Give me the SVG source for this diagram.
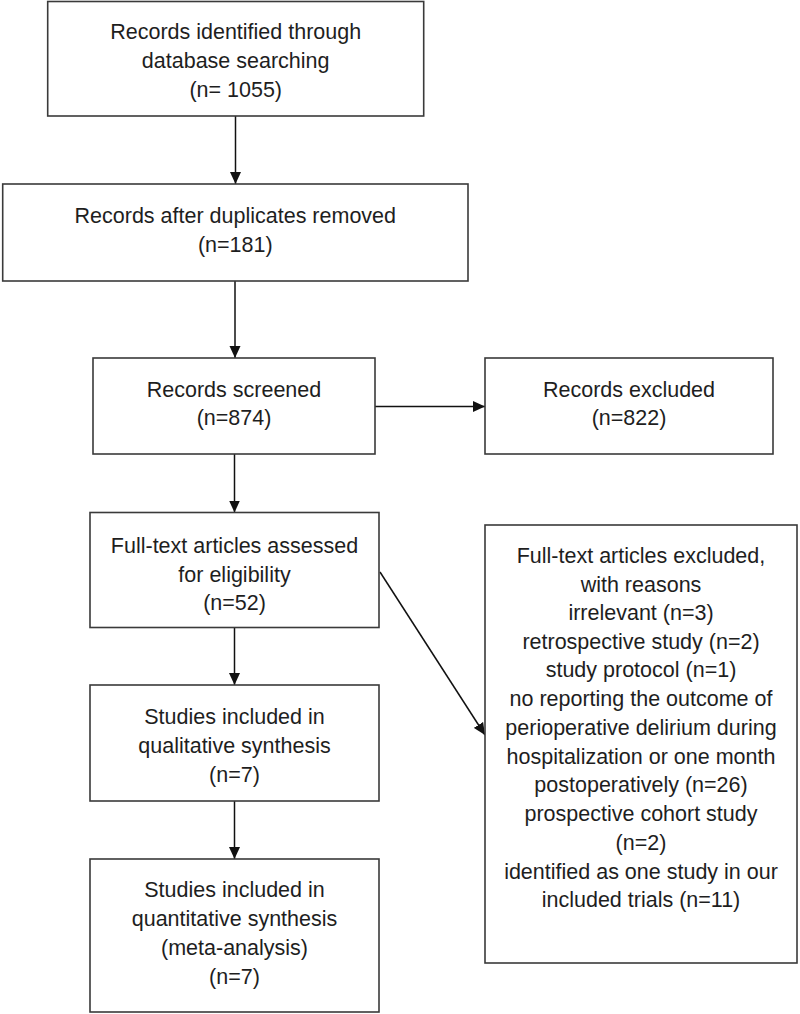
<svg xmlns="http://www.w3.org/2000/svg" width="800" height="1014" viewBox="0 0 800 1014">
<defs>
<marker id="ah" markerUnits="userSpaceOnUse" markerWidth="12" markerHeight="12" refX="12" refY="6" orient="auto">
<path d="M0,0.5 L12,6 L0,11.5 z" fill="#111"/>
</marker>
<style>
.box{fill:#fff;stroke:#3a3a3a;stroke-width:1.6}
.t{font-family:"Liberation Sans",Arial,sans-serif;font-size:21.5px;fill:#1e1e1e;text-anchor:middle}
.c{stroke:#111;stroke-width:1.5;fill:none;marker-end:url(#ah)}
</style>
</defs>
<rect width="800" height="1014" fill="#fff"/>
<g id="connectors">
<line class="c" x1="235.5" y1="116" x2="235.5" y2="184"/>
<line class="c" x1="235" y1="281" x2="235" y2="358"/>
<line class="c" x1="375" y1="406.5" x2="485" y2="406.5"/>
<line class="c" x1="234.5" y1="454" x2="234.5" y2="512.5"/>
<line class="c" x1="380" y1="572" x2="485" y2="735"/>
<line class="c" x1="234.5" y1="627.5" x2="234.5" y2="685"/>
<line class="c" x1="234.5" y1="801" x2="234.5" y2="859"/>
</g>
<g id="n1">
<rect class="box" x="47.7" y="1.5" width="376" height="114.5"/>
<text class="t" x="235.7" y="39">Records identified through</text>
<text class="t" x="235.7" y="68">database searching</text>
<text class="t" x="235.7" y="97">(n= 1055)</text>
</g>
<g id="n2">
<rect class="box" x="2.7" y="184" width="465.3" height="97"/>
<text class="t" x="235.3" y="223">Records after duplicates removed</text>
<text class="t" x="235.3" y="252">(n=181)</text>
</g>
<g id="n3">
<rect class="box" x="93" y="358" width="282" height="96"/>
<text class="t" x="234" y="396.5">Records screened</text>
<text class="t" x="234" y="425">(n=874)</text>
</g>
<g id="n4">
<rect class="box" x="485" y="358" width="288" height="96"/>
<text class="t" x="629" y="396.5">Records excluded</text>
<text class="t" x="629" y="425">(n=822)</text>
</g>
<g id="n5">
<rect class="box" x="90" y="512.5" width="289" height="115"/>
<text class="t" x="234.5" y="552.5">Full-text articles assessed</text>
<text class="t" x="234.5" y="581.5">for eligibility</text>
<text class="t" x="234.5" y="610">(n=52)</text>
</g>
<g id="n6">
<rect class="box" x="485" y="525" width="312" height="438"/>
<text class="t" x="641" y="563">Full-text articles excluded,</text>
<text class="t" x="641" y="591.5">with reasons</text>
<text class="t" x="641" y="620">irrelevant (n=3)</text>
<text class="t" x="641" y="648.5">retrospective study (n=2)</text>
<text class="t" x="641" y="677">study protocol (n=1)</text>
<text class="t" x="641" y="706">no reporting the outcome of</text>
<text class="t" x="641" y="735">perioperative delirium during</text>
<text class="t" x="641" y="763.5">hospitalization or one month</text>
<text class="t" x="641" y="792">postoperatively (n=26)</text>
<text class="t" x="641" y="821">prospective cohort study</text>
<text class="t" x="641" y="850">(n=2)</text>
<text class="t" x="641" y="878.5">identified as one study in our</text>
<text class="t" x="641" y="907">included trials (n=11)</text>
</g>
<g id="n7">
<rect class="box" x="90" y="685" width="289" height="116"/>
<text class="t" x="234.5" y="724">Studies included in</text>
<text class="t" x="234.5" y="752.5">qualitative synthesis</text>
<text class="t" x="234.5" y="781.5">(n=7)</text>
</g>
<g id="n8">
<rect class="box" x="90" y="859" width="289" height="153"/>
<text class="t" x="234.5" y="897">Studies included in</text>
<text class="t" x="234.5" y="926">quantitative synthesis</text>
<text class="t" x="234.5" y="955">(meta-analysis)</text>
<text class="t" x="234.5" y="983.5">(n=7)</text>
</g>
</svg>
